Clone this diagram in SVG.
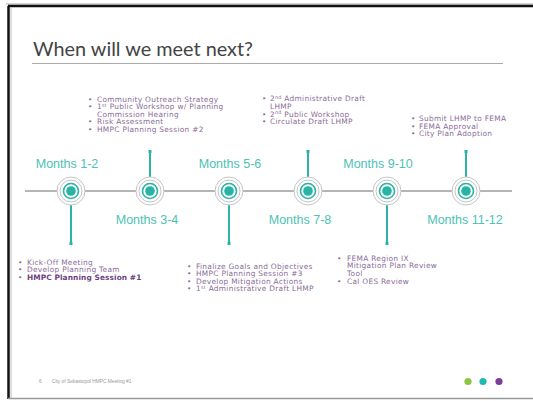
<svg xmlns="http://www.w3.org/2000/svg" width="533" height="401" viewBox="0 0 533 401">
<style>
.lst{font-family:"DejaVu Sans","Liberation Sans",sans-serif;font-size:7.4px;letter-spacing:0.3px;fill:#8a6c98}
.b{font-weight:bold;fill:#6e3f80;letter-spacing:0.1px}
.mon{font-family:"Liberation Sans",Arial,sans-serif;font-size:12.5px;fill:#4cc2b4}
.stem{stroke:#2cb5a6;stroke-width:2}
.ring1{fill:#fff;stroke:#c4c4c4;stroke-width:1}
.ring2{fill:none;stroke:#c4c4c4;stroke-width:1}
.ring3{fill:none;stroke:#27b4a4;stroke-width:1.6}
.core{fill:#27b4a4}
.dot{fill:#27b4a4}
.sup{font-size:4.8px}
</style>
<defs>
<g id="node">
<circle r="14" class="ring1"/>
<circle r="11" class="ring2"/>
<circle r="7.5" class="ring3"/>
<circle r="4.8" class="core"/>
</g>
</defs>
<rect width="533" height="401" fill="#fff"/>
<g id="frame">
<line x1="6" y1="4" x2="533" y2="4" stroke="#aaa" stroke-width="1"/>
<line x1="8" y1="6" x2="533" y2="6" stroke="#111" stroke-width="2.5"/>
<line x1="8.5" y1="6" x2="8.5" y2="399" stroke="#111" stroke-width="2.5"/>
<line x1="11" y1="8" x2="11" y2="398" stroke="#bbb" stroke-width="1"/>
<line x1="8" y1="398.5" x2="533" y2="398.5" stroke="#999" stroke-width="1.5"/>
</g>
<g id="title">
<text x="33" y="56" font-family="Lato,'Liberation Sans',sans-serif" font-size="19" textLength="220" lengthAdjust="spacingAndGlyphs" fill="#444">When will we meet next?</text>
<line x1="32" y1="63.5" x2="503" y2="63.5" stroke="#aaa" stroke-width="1"/>
</g>
<g id="connectors">
<line x1="25" y1="191" x2="512" y2="191" stroke="#b5b5b5" stroke-width="2"/>
<line class="stem" x1="150" y1="152" x2="150" y2="177"/>
<rect class="dot" x="148.5" y="150" width="3" height="3"/>
<line class="stem" x1="308" y1="152" x2="308" y2="177"/>
<rect class="dot" x="306.5" y="150" width="3" height="3"/>
<line class="stem" x1="466" y1="152" x2="466" y2="177"/>
<rect class="dot" x="464.5" y="150" width="3" height="3"/>
<line class="stem" x1="71" y1="205" x2="71" y2="243"/>
<rect class="dot" x="69.5" y="242" width="3" height="3"/>
<line class="stem" x1="229" y1="205" x2="229" y2="243"/>
<rect class="dot" x="227.5" y="242" width="3" height="3"/>
<line class="stem" x1="387" y1="205" x2="387" y2="243"/>
<rect class="dot" x="385.5" y="242" width="3" height="3"/>
</g>
<g id="n1"><use href="#node" x="71" y="191"/><text class="mon" x="67" y="168" text-anchor="middle">Months 1-2</text></g>
<g id="n2"><use href="#node" x="150" y="191"/><text class="mon" x="147" y="224" text-anchor="middle">Months 3-4</text></g>
<g id="n3"><use href="#node" x="229" y="191"/><text class="mon" x="230" y="168" text-anchor="middle">Months 5-6</text></g>
<g id="n4"><use href="#node" x="308" y="191"/><text class="mon" x="300" y="224" text-anchor="middle">Months 7-8</text></g>
<g id="n5"><use href="#node" x="387" y="191"/><text class="mon" x="378" y="168" text-anchor="middle">Months 9-10</text></g>
<g id="n6"><use href="#node" x="466" y="191"/><text class="mon" x="465" y="224" text-anchor="middle">Months 11-12</text></g>
<g id="listA" class="lst">
<text x="88" y="101.5">•</text><text x="97" y="101.5">Community Outreach Strategy</text>
<text x="88" y="109.1">•</text><text x="97" y="109.1">1<tspan class="sup" dy="-2.5">st</tspan><tspan dy="2.5"> Public Workshop w/ Planning</tspan></text>
<text x="97" y="116.7">Commission Hearing</text>
<text x="88" y="124.3">•</text><text x="97" y="124.3">Risk Assessment</text>
<text x="88" y="131.9">•</text><text x="97" y="131.9">HMPC Planning Session #2</text>
</g>
<g id="listB" class="lst">
<text x="262" y="101">•</text><text x="270" y="101">2<tspan class="sup" dy="-2.5">nd</tspan><tspan dy="2.5"> Administrative Draft</tspan></text>
<text x="270" y="108.6">LHMP</text>
<text x="262" y="116.6">•</text><text x="270" y="116.6">2<tspan class="sup" dy="-2.5">nd</tspan><tspan dy="2.5"> Public Workshop</tspan></text>
<text x="262" y="124.2">•</text><text x="270" y="124.2">Circulate Draft LHMP</text>
</g>
<g id="listC" class="lst">
<text x="411" y="121">•</text><text x="419" y="121">Submit LHMP to FEMA</text>
<text x="411" y="128.6">•</text><text x="419" y="128.6">FEMA Approval</text>
<text x="411" y="136.2">•</text><text x="419" y="136.2">City Plan Adoption</text>
</g>
<g id="listD" class="lst">
<text x="18" y="264.5">•</text><text x="27" y="264.5">Kick-Off Meeting</text>
<text x="18" y="272.1">•</text><text x="27" y="272.1">Develop Planning Team</text>
<text x="18" y="279.7">•</text><text x="27" y="279.7" class="b">HMPC Planning Session #1</text>
</g>
<g id="listE" class="lst">
<text x="187" y="268.5">•</text><text x="196" y="268.5">Finalize Goals and Objectives</text>
<text x="187" y="276.1">•</text><text x="196" y="276.1">HMPC Planning Session #3</text>
<text x="187" y="283.7">•</text><text x="196" y="283.7">Develop Mitigation Actions</text>
<text x="187" y="291.3">•</text><text x="196" y="291.3">1<tspan class="sup" dy="-2.5">st</tspan><tspan dy="2.5"> Administrative Draft LHMP</tspan></text>
</g>
<g id="listF" class="lst">
<text x="337" y="260.5">•</text><text x="347" y="260.5">FEMA Region IX</text>
<text x="347" y="268.1">Mitigation Plan Review</text>
<text x="347" y="275.7">Tool</text>
<text x="337" y="284">•</text><text x="347" y="284">Cal OES Review</text>
</g>
<g id="footer">
<text x="39" y="383" font-family="'Liberation Sans',Arial,sans-serif" font-size="4.8" fill="#999">6</text>
<text x="52" y="383" font-family="'Liberation Sans',Arial,sans-serif" font-size="4.8" fill="#999">City of Sebastopol HMPC Meeting #1</text>
<circle cx="468" cy="381.5" r="3.6" fill="#8cc63f"/>
<circle cx="483" cy="381.5" r="3.6" fill="#22b8b3"/>
<circle cx="499" cy="381.5" r="3.6" fill="#7b3f98"/>
</g>
</svg>
